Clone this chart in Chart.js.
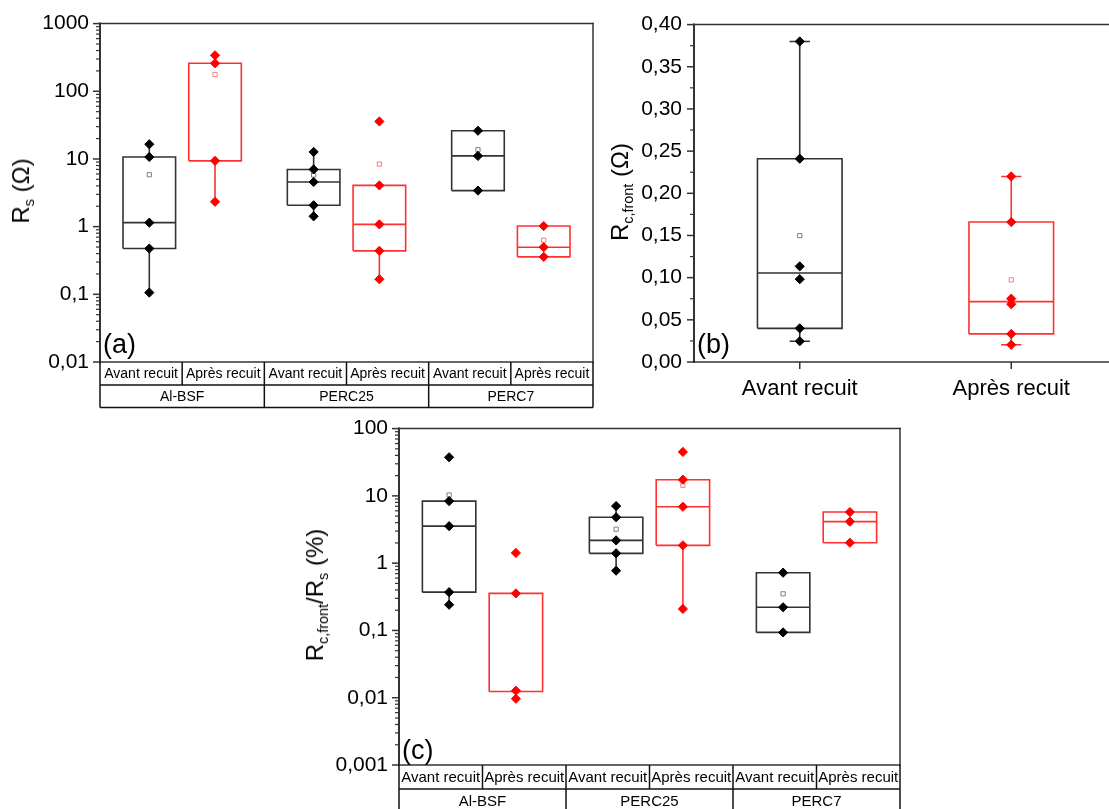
<!DOCTYPE html>
<html>
<head>
<meta charset="utf-8">
<script src="https://cdn.jsdelivr.net/npm/chart.js@4.4.1/dist/chart.umd.min.js"></script>
<style>
html,body{margin:0;padding:0;width:1109px;height:809px;overflow:hidden;background:#fff;font-family:"Liberation Sans",Arial,sans-serif;}
.panel{position:absolute;}
.panel canvas{display:block;}
.ytitle{position:absolute;white-space:nowrap;font-size:24px;color:#000;transform:translate(-50%,-50%) rotate(-90deg);line-height:1;}
.ytitle sub{font-size:0.6em;vertical-align:-0.35em;line-height:0;}
</style>
</head>
<body>
<div class="panel" style="left:0;top:0;"><canvas id="ca" width="600" height="412"></canvas></div>
<div class="panel" style="left:600px;top:0;"><canvas id="cb" width="530" height="412"></canvas></div>
<div class="panel" style="left:299px;top:405px;"><canvas id="cc" width="607" height="410"></canvas></div>
<div class="ytitle" style="left:21px;top:191px;">R<sub>s</sub> (Ω)</div>
<div class="ytitle" style="left:620px;top:192px;">R<sub>c,front</sub> (Ω)</div>
<div class="ytitle" style="left:315px;top:595px;">R<sub>c,front</sub>/R<sub>s</sub> (%)</div>
<script>
// ---------------- shared categories ----------------
const groups = ['Al-BSF', 'PERC25', 'PERC7'];
const conditions = ['Avant recuit', 'Après recuit'];

// ---------------- Panel (a): Rs (Ω) ----------------
const rsTickValues = [0.01, 0.1, 1, 10, 100, 1000];
const rsTickLabels = ['0,01', '0,1', '1', '10', '100', '1000'];
const rsAvantPoints = [[16.5, 10.7, 1.145, 0.475, 0.106], [12.7, 7.0, 4.57, 2.07, 1.42], [26.1, 11.1, 3.41]];
const rsAvantQ1 = [0.475, 2.07, 3.41];
const rsAvantMedian = [1.145, 4.57, 11.1];
const rsAvantQ3 = [10.7, 7.0, 26.1];
const rsAvantWhiskerLow = [0.106, 1.42, null];
const rsAvantWhiskerHigh = [16.5, 12.7, null];
const rsAvantMean = [5.85, 5.79, 13.7];
const rsApresPoints = [[340, 259, 9.38, 2.33], [35.8, 4.07, 1.08, 0.439, 0.167], [1.02, 0.497, 0.358]];
const rsApresQ1 = [9.38, 0.439, 0.358];
const rsApresMedian = [null, 1.08, 0.497];
const rsApresQ3 = [259, 4.07, 1.02];
const rsApresWhiskerLow = [2.33, 0.167, null];
const rsApresWhiskerHigh = [340, null, null];
const rsApresMean = [177, 8.39, 0.63];

// ---------------- Panel (b): Rc,front (Ω) ----------------
const rcTickValues = [0, 0.05, 0.10, 0.15, 0.20, 0.25, 0.30, 0.35, 0.40];
const rcTickLabels = ['0,00', '0,05', '0,10', '0,15', '0,20', '0,25', '0,30', '0,35', '0,40'];
const rcAvantPoints = [0.380, 0.241, 0.1134, 0.0982, 0.0399, 0.0246];
const rcApresPoints = [0.220, 0.1659, 0.0751, 0.0685, 0.0333, 0.0204];
const rcQ1 = [0.0399, 0.0333];
const rcMedian = [0.1056, 0.0716];
const rcQ3 = [0.241, 0.1659];
const rcWhiskerLow = [0.0246, 0.0204];
const rcWhiskerHigh = [0.380, 0.220];
const rcMean = [0.1498, 0.0974];

// ---------------- Panel (c): Rc,front/Rs (%) ----------------
const ratioTickValues = [0.001, 0.01, 0.1, 1, 10, 100];
const ratioTickLabels = ['0,001', '0,01', '0,1', '1', '10', '100'];
const ratioAvantPoints = [[37.5, 8.36, 3.55, 0.371, 0.241], [7.06, 4.81, 2.18, 1.40, 0.773], [0.722, 0.221, 0.0935]];
const ratioAvantQ1 = [0.371, 1.40, 0.0935];
const ratioAvantMedian = [3.55, 2.18, 0.221];
const ratioAvantQ3 = [8.36, 4.81, 0.722];
const ratioAvantWhiskerLow = [0.241, 0.773, null];
const ratioAvantWhiskerHigh = [null, 7.06, null];
const ratioAvantMean = [10.3, 3.2, 0.35];
const ratioApresPoints = [[1.42, 0.355, 0.0127, 0.00966], [45, 17.4, 6.89, 1.84, 0.209], [5.75, 4.15, 2.01]];
const ratioApresQ1 = [0.0124, 1.84, 2.01];
const ratioApresMedian = [null, 6.89, 4.15];
const ratioApresQ3 = [0.355, 17.4, 5.75];
const ratioApresWhiskerLow = [null, 0.209, null];
const ratioApresWhiskerHigh = [null, null, null];
const ratioApresMean = [null, 14.4, 3.97];

// ---------------- styling ----------------
const FONT = '"Liberation Sans", Arial, sans-serif';
Chart.defaults.font.family = FONT;
Chart.defaults.color = '#000';
const STY = {
  avant: { line: '#333333', point: '#000000', mean: '#808080' },
  apres: { line: '#ff3030', point: '#ff0000', mean: '#ff7a7a' }
};

function boxDatasets(xs, s, st, halfW, capW) {
  const line = [], pts = [], means = [];
  const gap = () => { if (line.length) line.push({ x: null, y: null }); };
  xs.forEach((x, i) => {
    gap();
    line.push({ x: x - halfW, y: s.q1[i] }, { x: x + halfW, y: s.q1[i] }, { x: x + halfW, y: s.q3[i] },
              { x: x - halfW, y: s.q3[i] }, { x: x - halfW, y: s.q1[i] });
    if (s.med[i] != null) { gap(); line.push({ x: x - halfW, y: s.med[i] }, { x: x + halfW, y: s.med[i] }); }
    if (s.hi[i] != null) {
      gap(); line.push({ x: x, y: s.q3[i] }, { x: x, y: s.hi[i] });
      if (capW) { gap(); line.push({ x: x - capW, y: s.hi[i] }, { x: x + capW, y: s.hi[i] }); }
    }
    if (s.lo[i] != null) {
      gap(); line.push({ x: x, y: s.q1[i] }, { x: x, y: s.lo[i] });
      if (capW) { gap(); line.push({ x: x - capW, y: s.lo[i] }, { x: x + capW, y: s.lo[i] }); }
    }
    s.points[i].forEach(v => pts.push({ x: x, y: v }));
    if (s.mean[i] != null) means.push({ x: x, y: s.mean[i] });
  });
  return [
    { data: line, showLine: true, borderColor: st.line, borderWidth: 1.6, pointRadius: 0, pointHoverRadius: 0,
      fill: false, spanGaps: false, borderJoinStyle: 'miter', order: 3 },
    { data: means, showLine: false, pointStyle: 'rect', pointRadius: 3, backgroundColor: '#ffffff',
      borderColor: st.mean, borderWidth: 1, order: 2 },
    { data: pts, showLine: false, pointStyle: 'rectRot', pointRadius: 4.6, backgroundColor: st.point,
      borderColor: st.point, borderWidth: 1, order: 1 }
  ];
}

const decor = {
  id: 'decor',
  afterDraw(chart, args, o) {
    const { ctx, chartArea: ca, scales } = chart;
    const ys = scales.y, xs = scales.x;
    ctx.save();
    ctx.strokeStyle = '#333';
    ctx.lineWidth = 1.5;
    ctx.lineCap = 'square';
    const L = (x1, y1, x2, y2) => { ctx.beginPath(); ctx.moveTo(x1, y1); ctx.lineTo(x2, y2); ctx.stroke(); };
    L(ca.left, ca.top, ca.right, ca.top);
    L(ca.right, ca.top, ca.right, ca.bottom);
    L(ca.left, ca.bottom, ca.right, ca.bottom);
    ctx.lineWidth = 2;
    L(ca.left, ca.top, ca.left, ca.bottom);
    ctx.lineWidth = 1.5;
    // y tick marks
    ctx.lineCap = 'butt';
    const major = o.yMajor;
    major.forEach(v => { const p = ys.getPixelForValue(v); L(ca.left - 7, p, ca.left, p); });
    const minor = [];
    for (let i = 0; i < major.length - 1; i++) {
      if (o.log) { for (let k = 2; k <= 9; k++) minor.push(k * major[i]); }
      else minor.push((major[i] + major[i + 1]) / 2);
    }
    ctx.lineWidth = 1.2;
    minor.forEach(v => { const p = ys.getPixelForValue(v); L(ca.left - 4, p, ca.left, p); });
    ctx.lineWidth = 1.5;
    // x tick marks
    if (o.xTicks) o.xTicks.forEach(v => { const p = xs.getPixelForValue(v); L(p, ca.bottom, p, ca.bottom + 7); });
    // category table
    if (o.table) {
      const t = o.table;
      const r1 = ca.bottom + t.row1, r2 = r1 + t.row2;
      ctx.strokeStyle = '#111';
      L(ca.left, r1, ca.right, r1);
      L(ca.left, r2, ca.right, r2);
      for (let i = 0; i <= 2 * t.groups.length; i++) {
        const p = xs.getPixelForValue(i);
        L(p, ca.bottom, p, i % 2 === 0 ? r2 : r1);
      }
      ctx.fillStyle = '#000';
      ctx.font = t.fontSize + 'px ' + FONT;
      ctx.textAlign = 'center';
      ctx.textBaseline = 'middle';
      t.groups.forEach((g, gi) => {
        t.conditions.forEach((c, ci) => {
          ctx.fillText(c, xs.getPixelForValue(2 * gi + ci + 0.5), (ca.bottom + r1) / 2 + 1);
        });
        ctx.fillText(g, xs.getPixelForValue(2 * gi + 1), (r1 + r2) / 2 + 1);
      });
    }
    // panel letter
    ctx.fillStyle = '#000';
    ctx.font = '27px ' + FONT;
    ctx.textAlign = 'left';
    ctx.textBaseline = 'alphabetic';
    ctx.fillText(o.letter, ca.left + 3, ca.bottom - o.letterOffset);
    ctx.restore();
  }
};

function yAxis(type, min, max, vals, labels, width, pad) {
  return {
    type: type, min: min, max: max, position: 'left',
    afterBuildTicks: s => { s.ticks = vals.map(v => ({ value: v })); },
    afterFit: s => { s.width = width; },
    ticks: { callback: (v, i) => labels[i], font: { size: 21, family: FONT }, color: '#000', padding: pad, autoSkip: false },
    grid: { display: false, drawTicks: false },
    border: { display: false }
  };
}

const baseOpts = (extra) => Object.assign({
  responsive: false, animation: false, devicePixelRatio: 1, events: [],
}, extra);

const groupX = (gi, ci) => 2 * gi + 1 + (ci === 0 ? -0.4 : 0.4);

// ---------- chart (a) ----------
new Chart(document.getElementById('ca'), {
  type: 'scatter',
  data: {
    datasets: [
      ...boxDatasets(groups.map((g, i) => groupX(i, 0)),
        { points: rsAvantPoints, q1: rsAvantQ1, med: rsAvantMedian, q3: rsAvantQ3, lo: rsAvantWhiskerLow, hi: rsAvantWhiskerHigh, mean: rsAvantMean },
        STY.avant, 0.32, 0),
      ...boxDatasets(groups.map((g, i) => groupX(i, 1)),
        { points: rsApresPoints, q1: rsApresQ1, med: rsApresMedian, q3: rsApresQ3, lo: rsApresWhiskerLow, hi: rsApresWhiskerHigh, mean: rsApresMean },
        STY.apres, 0.32, 0)
    ]
  },
  options: baseOpts({
    layout: { padding: { top: 21, right: 7, bottom: 50, left: 0 } },
    scales: {
      x: { type: 'linear', min: 0, max: 6, display: false },
      y: yAxis('logarithmic', 0.01, 1000, rsTickValues, rsTickLabels, 100, 11)
    },
    plugins: {
      legend: { display: false }, tooltip: { enabled: false },
      decor: { yMajor: rsTickValues, log: true, letter: '(a)', letterOffset: 9,
               table: { groups: groups, conditions: conditions, row1: 23, row2: 22.5, fontSize: 14 } }
    }
  }),
  plugins: [decor]
});

// ---------- chart (b) ----------
new Chart(document.getElementById('cb'), {
  type: 'scatter',
  data: {
    datasets: [
      ...boxDatasets([0],
        { points: [rcAvantPoints], q1: [rcQ1[0]], med: [rcMedian[0]], q3: [rcQ3[0]], lo: [rcWhiskerLow[0]], hi: [rcWhiskerHigh[0]], mean: [rcMean[0]] },
        STY.avant, 0.2, 0.048),
      ...boxDatasets([1],
        { points: [rcApresPoints], q1: [rcQ1[1]], med: [rcMedian[1]], q3: [rcQ3[1]], lo: [rcWhiskerLow[1]], hi: [rcWhiskerHigh[1]], mean: [rcMean[1]] },
        STY.apres, 0.2, 0.048)
    ]
  },
  options: baseOpts({
    layout: { padding: { top: 21, right: 13, bottom: 0, left: 0 } },
    scales: {
      x: {
        type: 'linear', min: -0.5, max: 1.5, position: 'bottom',
        afterBuildTicks: s => { s.ticks = conditions.map((c, i) => ({ value: i })); },
        afterFit: s => { s.height = 50; },
        ticks: { callback: (v, i) => conditions[i], font: { size: 22, family: FONT }, color: '#000', padding: 14, autoSkip: false, maxRotation: 0 },
        grid: { display: false, drawTicks: false },
        border: { display: false }
      },
      y: yAxis('linear', 0, 0.4, rcTickValues, rcTickLabels, 94, 12)
    },
    plugins: {
      legend: { display: false }, tooltip: { enabled: false },
      decor: { yMajor: rcTickValues, log: false, letter: '(b)', letterOffset: 9, xTicks: conditions.map((c, i) => i) }
    }
  }),
  plugins: [decor]
});

// ---------- chart (c) ----------
new Chart(document.getElementById('cc'), {
  type: 'scatter',
  data: {
    datasets: [
      ...boxDatasets(groups.map((g, i) => groupX(i, 0)),
        { points: ratioAvantPoints, q1: ratioAvantQ1, med: ratioAvantMedian, q3: ratioAvantQ3, lo: ratioAvantWhiskerLow, hi: ratioAvantWhiskerHigh, mean: ratioAvantMean },
        STY.avant, 0.32, 0),
      ...boxDatasets(groups.map((g, i) => groupX(i, 1)),
        { points: ratioApresPoints, q1: ratioApresQ1, med: ratioApresMedian, q3: ratioApresQ3, lo: ratioApresWhiskerLow, hi: ratioApresWhiskerHigh, mean: ratioApresMean },
        STY.apres, 0.32, 0)
    ]
  },
  options: baseOpts({
    layout: { padding: { top: 21, right: 6, bottom: 50, left: 0 } },
    scales: {
      x: { type: 'linear', min: 0, max: 6, display: false },
      y: yAxis('logarithmic', 0.001, 100, ratioTickValues, ratioTickLabels, 100, 11)
    },
    plugins: {
      legend: { display: false }, tooltip: { enabled: false },
      decor: { yMajor: ratioTickValues, log: true, letter: '(c)', letterOffset: 6,
               table: { groups: groups, conditions: conditions, row1: 24, row2: 23, fontSize: 15 } }
    }
  }),
  plugins: [decor]
});
</script>
</body>
</html>
